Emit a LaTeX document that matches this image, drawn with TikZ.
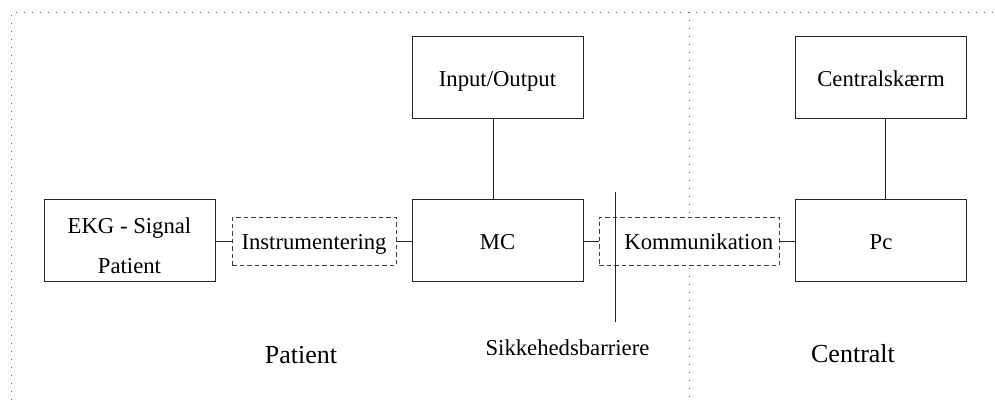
\documentclass[tikz,border=0pt]{standalone}
\usepackage{fontspec}
\setmainfont{Liberation Serif}
\begin{document}
\begin{tikzpicture}[x=1pt,y=-1pt,
  block/.style={draw=black!85, line width=0.9pt, fill=white,
    minimum width=171pt, minimum height=82pt, inner sep=0pt,
    text height=19.5pt, text depth=0pt,
    font=\fontsize{22.7}{40}\selectfont, align=center},
  iface/.style={draw=black!75, line width=0.9pt, fill=white,
    dash pattern=on 4.5pt off 3pt, minimum height=48pt, inner sep=0pt,
    text height=16.6pt, text depth=0pt,
    font=\fontsize{22.7}{27}\selectfont},
  link/.style={draw=black!85, line width=0.9pt},
  zone/.style={draw=black!60, line width=0.9pt, dash pattern=on 1pt off 7pt},
  region/.style={font=\fontsize{26}{30}\selectfont, anchor=base},
  barrierlabel/.style={font=\fontsize{22.7}{27}\selectfont, anchor=base}]
  \useasboundingbox (0,0) rectangle (995,400);

  % zone borders
  \coordinate (tl) at (11.5,12);
  \coordinate (tr) at (995,12);
  \coordinate (bl) at (11.5,400);
  \coordinate (dtop) at (689,12);
  \coordinate (dbot) at (689,400);
  \draw[zone] (bl) -- (tl) -- (tr);
  \draw[zone] (dtop) -- (dbot);

  % blocks
  \node[block, text height=66.6pt, text depth=0pt] (ekg) at (129.5,240) {EKG - Signal\\Patient};
  \node[block] (io)  at (497.5,77) {Input/Output};
  \node[block] (mc)  at (497.5,240) {MC};
  \node[block] (scr) at (881,77) {Centralskærm};
  \node[block] (pc)  at (881,240) {Pc};

  % interfaces
  \node[iface, minimum width=164pt] (ins) at (314,241) {Instrumentering};
  \node[iface, minimum width=180pt] (kom) at (689.3,241) {\hspace*{19pt}Kommunikation};

  % connections
  \draw[link] (ekg.east |- ins.west) -- (ins.west);
  \draw[link] (ins.east) -- (ins.east -| mc.west);
  \draw[link] (mc.east |- kom.west) -- (kom.west);
  \draw[link] (kom.east) -- (kom.east -| pc.west);
  \draw[link] ([xshift=-4.5pt]io.south) -- ([xshift=-4.5pt]mc.north);
  \draw[link] ([xshift=4.5pt]scr.south) -- ([xshift=4.5pt]pc.north);

  % safety barrier
  \coordinate (btop) at (615.3,192);
  \coordinate (bbot) at (615.3,322);
  \draw[link] (btop) -- (bbot);
  \node[barrierlabel] (blab) at (567.5,355) {Sikkehedsbarriere};

  % region labels
  \node[region] (patient) at (301,363) {Patient};
  \node[region] (central) at (853,362) {Centralt};
\end{tikzpicture}
\end{document}
